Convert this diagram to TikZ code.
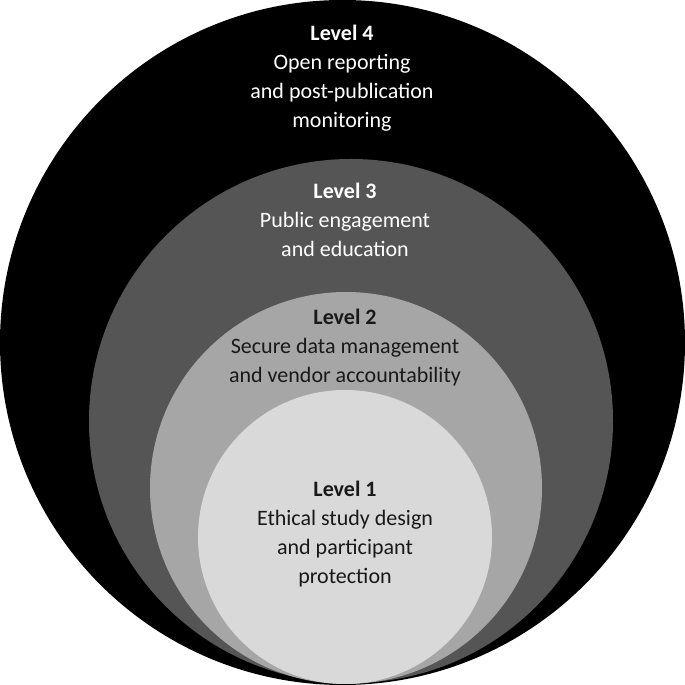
\documentclass[tikz,border=0pt]{standalone}
\usepackage{fontspec}
\setmainfont{Carlito}
\begin{document}
\begin{tikzpicture}[x=1pt,y=1pt,
  lab/.style={align=center,font=\fontsize{22}{29}\selectfont,anchor=north},
  ring/.style={draw=none}]
\useasboundingbox (0,0) rectangle (685,685);
\fill[black] (342.5,342.5) circle (342.5);
\fill[ring,fill={rgb,255:red,85;green,85;blue,85}] (351,264) circle (262);
\fill[ring,fill={rgb,255:red,166;green,166;blue,166}] (346,197) circle (196);
\fill[ring,fill={rgb,255:red,217;green,217;blue,217}] (345,148) circle (147);
\node[lab,text=white] (l4) at (342,663) {\textbf{Level 4}\\Open reporting\\and post-publication\\monitoring};
\node[lab,text=white] (l3) at (345,505) {\textbf{Level 3}\\Public engagement\\and education};
\node[lab,text=black!90] (l2) at (345,379) {\textbf{Level 2}\\Secure data management\\and vendor accountability};
\node[lab,text=black!90] (l1) at (345,207) {\textbf{Level 1}\\Ethical study design\\and participant\\protection};
\end{tikzpicture}
\end{document}
